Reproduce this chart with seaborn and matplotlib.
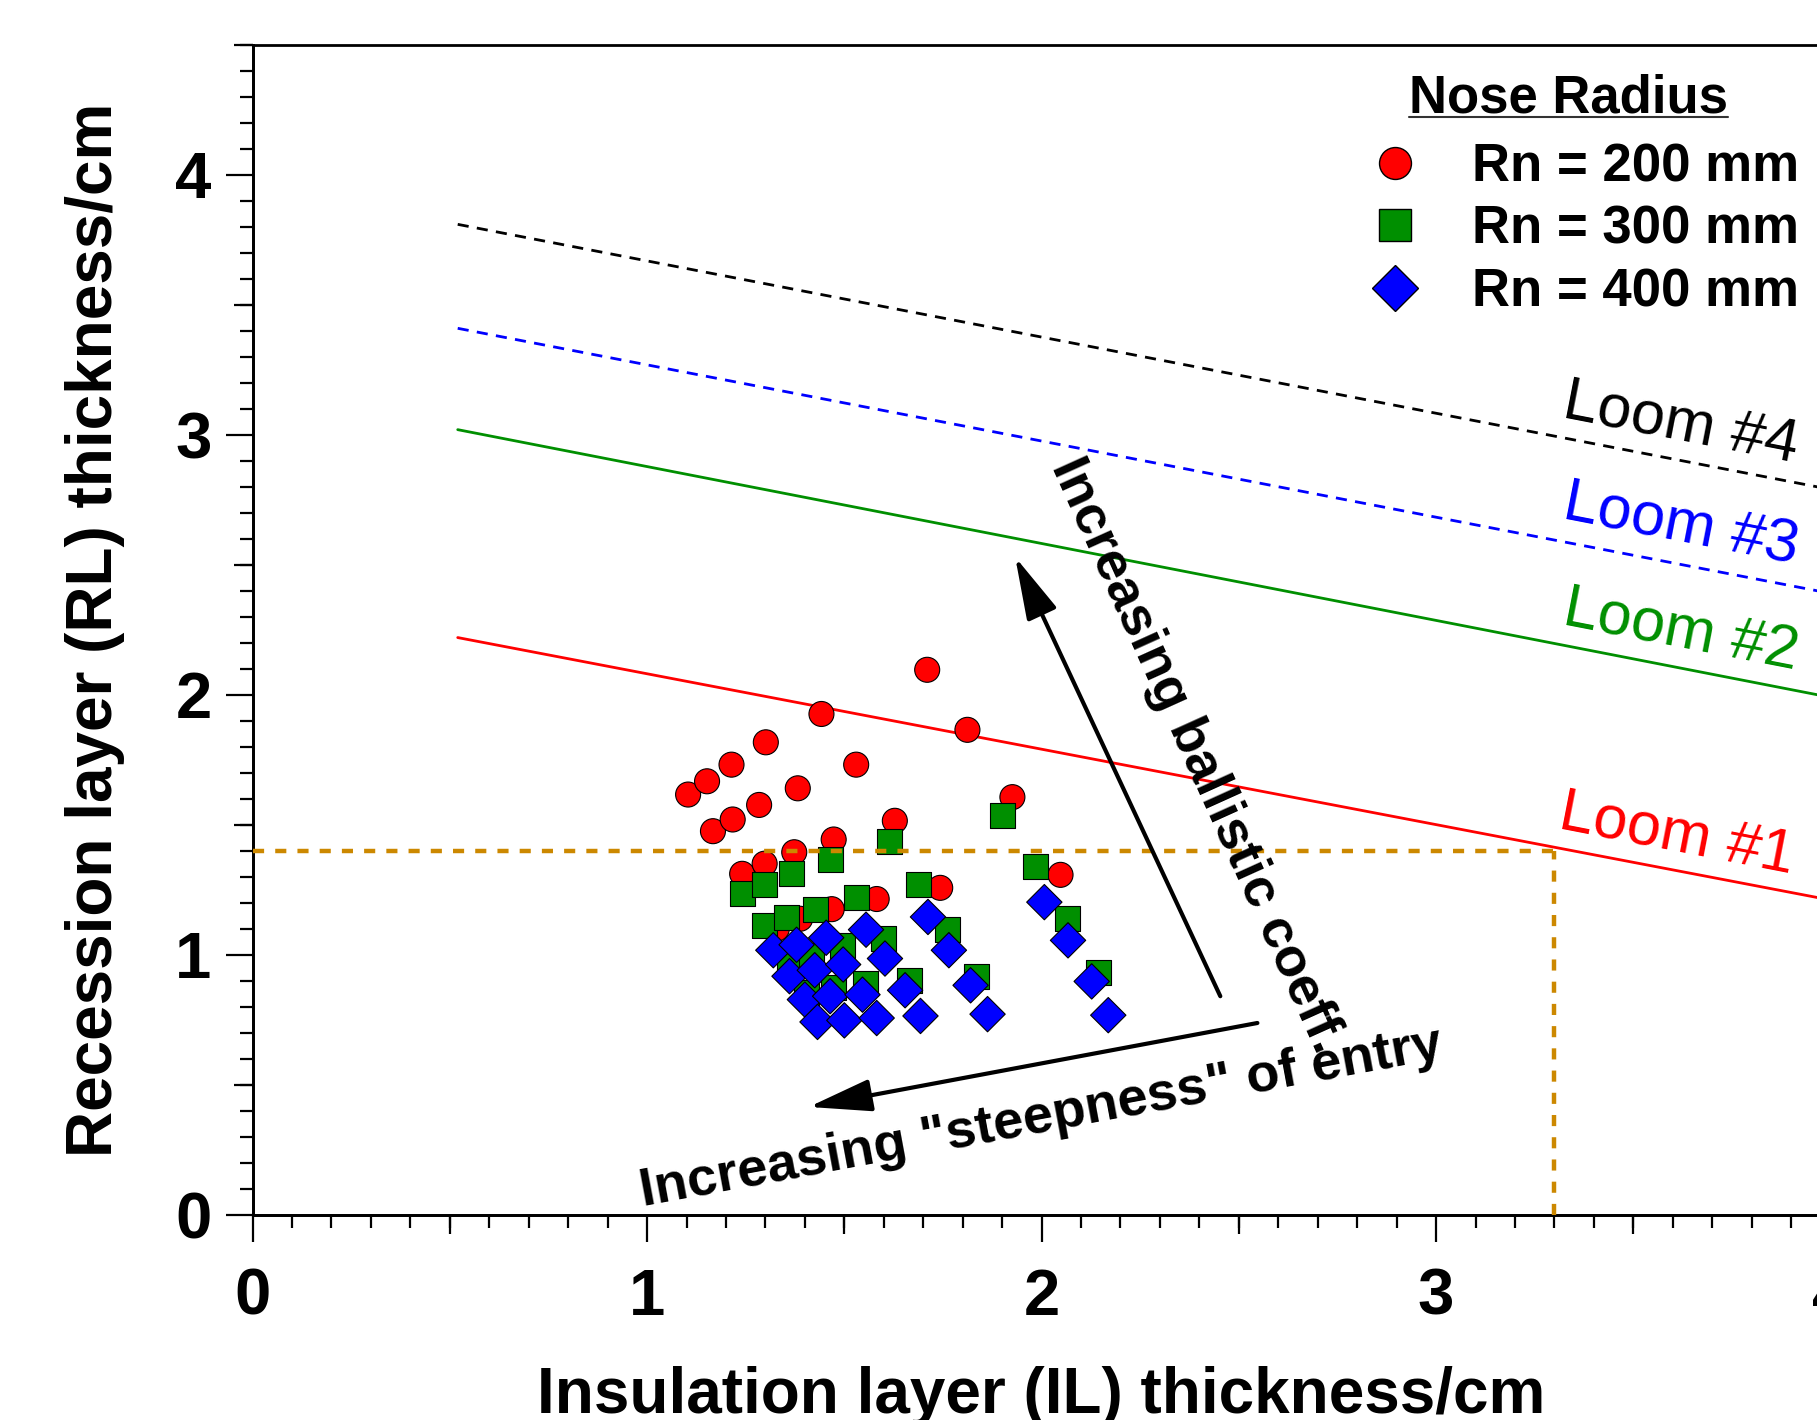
import numpy as np
import pandas as pd
import seaborn as sns
import matplotlib.pyplot as plt
from matplotlib.ticker import MultipleLocator
from matplotlib.lines import Line2D

# Scatter values: IL thickness (cm) vs RL thickness (cm)
rn200_il = [1.104, 1.152, 1.214, 1.301, 1.442, 1.710,
            1.167, 1.217, 1.284, 1.382, 1.530, 1.812,
            1.241, 1.298, 1.373, 1.473, 1.628, 1.926,
            1.329, 1.388, 1.468, 1.582, 1.743, 2.048]
rn200_rl = [1.616, 1.667, 1.731, 1.817, 1.926, 2.096,
            1.475, 1.520, 1.576, 1.640, 1.731, 1.865,
            1.311, 1.350, 1.394, 1.443, 1.515, 1.606,
            1.100, 1.138, 1.175, 1.214, 1.257, 1.307]

rn300_il = [1.242, 1.298, 1.367, 1.464, 1.614, 1.901,
            1.297, 1.354, 1.426, 1.530, 1.688, 1.985,
            1.360, 1.417, 1.495, 1.600, 1.761, 2.066,
            1.405, 1.472, 1.554, 1.665, 1.836, 2.145]
rn300_rl = [1.234, 1.269, 1.314, 1.366, 1.437, 1.535,
            1.113, 1.142, 1.175, 1.218, 1.271, 1.341,
            0.975, 0.998, 1.036, 1.062, 1.098, 1.138,
            0.855, 0.872, 0.889, 0.901, 0.917, 0.933]

rn400_il = [1.320, 1.379, 1.454, 1.555, 1.712, 2.007,
            1.361, 1.425, 1.497, 1.603, 1.765, 2.067,
            1.400, 1.464, 1.546, 1.654, 1.820, 2.127,
            1.432, 1.500, 1.582, 1.693, 1.863, 2.169]
rn400_rl = [1.017, 1.038, 1.065, 1.096, 1.145, 1.202,
            0.917, 0.940, 0.962, 0.985, 1.017, 1.055,
            0.827, 0.840, 0.846, 0.863, 0.882, 0.897,
            0.741, 0.747, 0.756, 0.764, 0.771, 0.767]

series_labels = ['Rn = 200 mm', 'Rn = 300 mm', 'Rn = 400 mm']

# Loom lines (end points)
loom_il = [0.52, 4.0]
loom1_rl = [2.22, 1.21]
loom2_rl = [3.02, 1.99]
loom3_rl = [3.41, 2.39]
loom4_rl = [3.81, 2.79]

# design limit (orange dashed)
limit_il = 3.3
limit_rl = 1.4

sns.set_style('ticks')
plt.rcParams['font.family'] = ['Liberation Sans', 'DejaVu Sans']
plt.rcParams['font.weight'] = 'bold'
plt.rcParams['text.color'] = 'black'
plt.rcParams['axes.labelcolor'] = 'black'
plt.rcParams['xtick.color'] = 'black'
plt.rcParams['ytick.color'] = 'black'
plt.rcParams['axes.edgecolor'] = 'black'

df = pd.DataFrame({
    'IL': rn200_il + rn300_il + rn400_il,
    'RL': rn200_rl + rn300_rl + rn400_rl,
    'Nose': [series_labels[0]] * len(rn200_il)
            + [series_labels[1]] * len(rn300_il)
            + [series_labels[2]] * len(rn400_il),
})

red = '#FF0000'
green = '#008F00'
blue = '#0000FF'
orange = '#CC8800'
palette = {series_labels[0]: red, series_labels[1]: green, series_labels[2]: blue}
markers = {series_labels[0]: 'o', series_labels[1]: 's', series_labels[2]: 'D'}

fig = plt.figure(figsize=(18.17, 14.2), dpi=100)
ax = fig.add_axes([0.139, 0.1447, 0.8685, 0.8236])

# loom lines
ax.plot(loom_il, loom1_rl, color=red, lw=2, zorder=1)
ax.plot(loom_il, loom2_rl, color=green, lw=2, zorder=1)
ax.plot(loom_il, loom3_rl, color=blue, lw=2, dashes=(4, 3), zorder=1)
ax.plot(loom_il, loom4_rl, color='black', lw=2, dashes=(4, 3), zorder=1)

sns.scatterplot(data=df, x='IL', y='RL', hue='Nose', style='Nose',
                palette=palette, markers=markers, s=324,
                edgecolor='black', linewidth=0.8, legend=False, ax=ax, zorder=3)

# limit lines
ax.plot([0, limit_il], [limit_rl, limit_rl], color=orange, lw=3.2, dashes=(2.5, 2.5), zorder=4)
ax.plot([limit_il, limit_il], [0, limit_rl], color=orange, lw=3.2, dashes=(2.5, 2.5), zorder=4)

# loom labels
loom_txt = dict(fontsize=44, fontweight='normal', rotation=-11,
                ha='center', va='center', rotation_mode='anchor')
ax.text(3.62, 3.04, 'Loom #4', color='black', **loom_txt)
ax.text(3.62, 2.65, 'Loom #3', color=blue, **loom_txt)
ax.text(3.62, 2.24, 'Loom #2', color=green, **loom_txt)
ax.text(3.61, 1.46, 'Loom #1', color=red, **loom_txt)

# arrows and their captions
arrow = dict(arrowstyle='-|>,head_length=0.97,head_width=0.25', color='black',
             lw=3, mutation_scale=40, shrinkA=0, shrinkB=0)
ax.annotate('', xy=(1.933, 2.530), xytext=(2.453, 0.840), arrowprops=arrow, zorder=5)
ax.annotate('', xy=(1.410, 0.414), xytext=(2.547, 0.737), arrowprops=arrow, zorder=5)
ax.text(2.393, 1.765, 'Increasing ballistic coeff.', fontsize=39, rotation=-65.7,
        ha='center', va='center', rotation_mode='anchor', zorder=5)
ax.text(2.0, 0.37, 'Increasing "steepness" of entry', fontsize=39, rotation=10.5,
        ha='center', va='center', rotation_mode='anchor', zorder=5)

# axes, ticks
ax.set_xlim(0, 4)
ax.set_ylim(0, 4.5)
ax.xaxis.set_major_locator(MultipleLocator(1))
ax.xaxis.set_minor_locator(MultipleLocator(0.1))
ax.yaxis.set_major_locator(MultipleLocator(1))
ax.yaxis.set_minor_locator(MultipleLocator(0.1))
ax.tick_params(which='major', length=19.5, width=1.6, direction='out',
               labelsize=47, color='black', labelcolor='black')
ax.tick_params(which='minor', length=9.5, width=1.6, direction='out', color='black')
ax.tick_params(axis='x', pad=19)
ax.tick_params(axis='y', pad=10)
for sp in ax.spines.values():
    sp.set_linewidth(2)
    sp.set_color('black')

sx = ax.secondary_xaxis('bottom')
sx.set_xticks(np.arange(0.5, 4.0, 1.0))
sx.tick_params(length=13.7, width=1.6, labelbottom=False, color='black')
sx.spines['bottom'].set_linewidth(2)
sx.spines['bottom'].set_color('black')
sy = ax.secondary_yaxis('left')
sy.set_yticks(np.arange(0.5, 4.6, 1.0))
sy.tick_params(length=13.7, width=1.6, labelleft=False, color='black')
sy.spines['left'].set_linewidth(2)
sy.spines['left'].set_color('black')

ax.set_xlabel('Insulation layer (IL) thickness/cm', fontsize=46, fontweight='bold', color='black')
ax.set_ylabel('Recession layer (RL) thickness/cm', fontsize=46, fontweight='bold', color='black')
ax.xaxis.set_label_coords(0.5, -0.1295)
ax.yaxis.set_label_coords(-0.0809, 0.5)

# legend
handles = [Line2D([], [], ls='none', marker=markers[k], markersize=23,
                  markerfacecolor=palette[k], markeredgecolor='black',
                  markeredgewidth=1) for k in series_labels]
leg = ax.legend(handles, series_labels, loc='upper left',
                bbox_to_anchor=(1363.5 / 1817, 0.900), bbox_transform=fig.transFigure,
                frameon=False, prop={'size': 38, 'weight': 'bold'},
                handlelength=1.2, handletextpad=0.86, labelspacing=0.24,
                borderpad=0, borderaxespad=0)
for t in leg.get_texts():
    t.set_color('black')

title = fig.text(0.8635, 0.9205, 'Nose Radius', ha='center', va='baseline',
                 fontsize=38, fontweight='bold', color='black')
fig.canvas.draw()
bb = title.get_window_extent()
uy = 0.9205 - 4 / 1420
fig.add_artist(Line2D([bb.x0 / 1817, bb.x1 / 1817], [uy, uy], color='#333333',
                      lw=1.5, transform=fig.transFigure))

fig.savefig('out.png', dpi=100)
